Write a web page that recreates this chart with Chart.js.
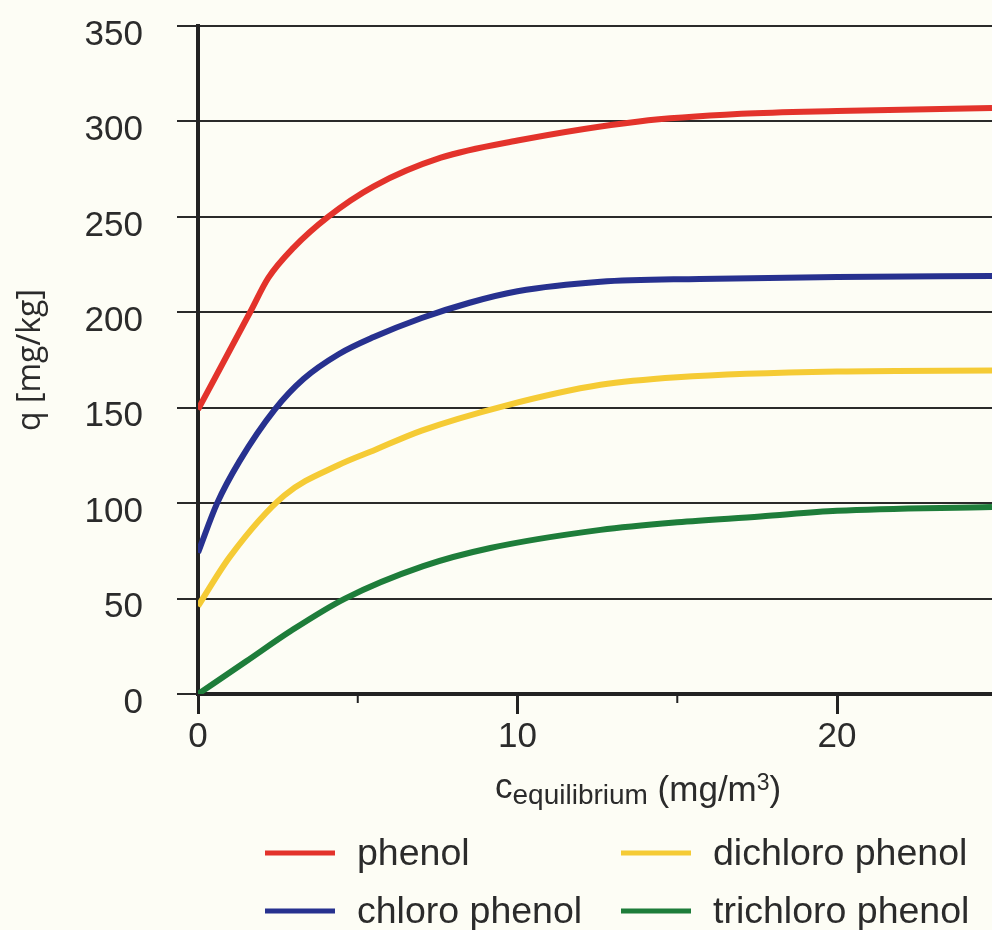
<!DOCTYPE html>
<html>
<head>
<meta charset="utf-8">
<script src="https://cdn.jsdelivr.net/npm/chart.js@4.4.1/dist/chart.umd.min.js"></script>
<style>
  html, body { margin: 0; padding: 0; background: #fdfdf5; }
  canvas { display: block; }
</style>
</head>
<body>
<canvas id="grafico" width="992" height="930"></canvas>
<script>
// valores
const phenolX = [0, 1.63, 2.2, 3, 4.07, 5.5, 7.6, 10, 13.8, 17, 20, 24.85]
const phenolY = [149, 200, 218, 234, 250, 266, 281, 290, 300, 304, 305.5, 307]

const chloroX = [0, 0.6, 1.3, 2.4, 3.3, 4.4, 5.5, 7, 8.5, 10, 12.6, 15.7, 20, 24.85]
const chloroY = [74, 100, 122, 149, 165, 178, 187, 197, 205, 211, 216, 217.5, 218.5, 219]

const dichloroX = [0, 1, 2.7, 4.4, 5.55, 7, 9.6, 12.6, 15, 20, 24.85]
const dichloroY = [46, 72, 104, 120, 128, 138, 151, 162, 166, 169, 169.5]

const trichloroX = [0, 1.5, 2.9, 4.6, 7.05, 9.15, 12.6, 15, 17.6, 20, 24.85]
const trichloroY = [0, 17, 33, 50, 67, 76.5, 86, 90, 93, 96, 98]

const seriesNames = ["phenol", "chloro phenol", "dichloro phenol", "trichloro phenol"]
const seriesColors = ["#e3332b", "#27318f", "#f5cb35", "#1e7d3a"]

const xTicks = [0, 5, 10, 15, 20]
const yTicks = [0, 50, 100, 150, 200, 250, 300, 350]

const fonte = "'Liberation Sans', Arial, sans-serif"
const corTexto = "#2b2b2b"

function pontos(xs, ys) {
  return xs.map((x, i) => ({ x: x, y: ys[i] }))
}

const dadosSeries = [
  pontos(phenolX, phenolY),
  pontos(chloroX, chloroY),
  pontos(dichloroX, dichloroY),
  pontos(trichloroX, trichloroY)
]

// marcas menores do eixo x, titulo do eixo x e legenda em duas colunas
const extras = {
  id: "extras",
  beforeDraw(chart) {
    const c = chart.ctx
    c.save()
    c.fillStyle = "#fdfdf5"
    c.fillRect(0, 0, chart.width, chart.height)
    c.restore()
  },
  afterDraw(chart) {
    const c = chart.ctx
    const sx = chart.scales.x
    const base = chart.chartArea.bottom
    c.save()
    c.strokeStyle = "#222"
    c.lineWidth = 2
    xTicks.filter(v => v % 10 !== 0).forEach(v => {
      const px = sx.getPixelForValue(v)
      c.beginPath()
      c.moveTo(px, base)
      c.lineTo(px, base + 9)
      c.stroke()
    })

    // titulo do eixo x com subscrito e sobrescrito
    c.fillStyle = corTexto
    c.textBaseline = "alphabetic"
    c.textAlign = "left"
    let x = 495
    const partes = [
      ["c", 35, 798],
      ["equilibrium", 28, 804],
      [" (mg/m", 35, 801],
      ["3", 23, 790],
      [")", 35, 801]
    ]
    partes.forEach(p => {
      c.font = p[1] + "px " + fonte
      c.fillText(p[0], x, p[2])
      x += c.measureText(p[0]).width
    })

    // legenda
    const posicoes = [[265, 853], [265, 911], [621, 853], [621, 911]]
    c.font = "37.5px " + fonte
    c.textBaseline = "middle"
    chart.data.datasets.forEach((ds, i) => {
      const [lx, ly] = posicoes[i]
      c.strokeStyle = ds.borderColor
      c.lineWidth = 5
      c.beginPath()
      c.moveTo(lx, ly)
      c.lineTo(lx + 70, ly)
      c.stroke()
      c.fillStyle = corTexto
      c.fillText(ds.label, lx + 92, ly + 2)
    })
    c.restore()
  }
}

const grafico = new Chart(document.getElementById("grafico"), {
  type: "line",
  data: {
    datasets: seriesNames.map((nome, i) => ({
      label: nome,
      data: dadosSeries[i],
      borderColor: seriesColors[i],
      backgroundColor: seriesColors[i],
      borderWidth: 6,
      pointRadius: 0,
      cubicInterpolationMode: "monotone",
      fill: false
    }))
  },
  options: {
    responsive: false,
    animation: false,
    devicePixelRatio: 1,
    layout: { padding: { top: 26, left: 0, right: 0, bottom: 0 } },
    plugins: {
      legend: { display: false },
      tooltip: { enabled: false }
    },
    scales: {
      x: {
        type: "linear",
        min: 0,
        max: 24.85,
        afterBuildTicks: s => { s.ticks = xTicks.map(v => ({ value: v })) },
        afterFit: s => { s.height = 236; s.paddingLeft = 0; s.paddingRight = 0 },
        border: { color: "#222", width: 4 },
        grid: {
          drawOnChartArea: false,
          tickLength: 20,
          tickWidth: 3,
          tickColor: ctx => (ctx.tick && ctx.tick.value % 10 === 0) ? "#222" : "rgba(0,0,0,0)"
        },
        ticks: {
          autoSkip: false,
          maxRotation: 0,
          padding: 2,
          color: corTexto,
          font: { family: fonte, size: 35 },
          callback: v => v % 10 === 0 ? v : ""
        }
      },
      y: {
        min: 0,
        max: 350,
        afterBuildTicks: s => { s.ticks = yTicks.map(v => ({ value: v })) },
        afterFit: s => { s.width = 198; s.paddingTop = 0; s.paddingBottom = 0 },
        border: { color: "#222", width: 4 },
        grid: {
          color: "#2a2a2a",
          lineWidth: 2,
          tickLength: 21,
          tickColor: "#2a2a2a",
          tickWidth: 2
        },
        ticks: {
          padding: 34,
          labelOffset: 9,
          color: corTexto,
          font: { family: fonte, size: 35 }
        },
        title: {
          display: true,
          text: "q [mg/kg]",
          color: corTexto,
          font: { family: "'Open Sans', sans-serif", size: 32 },
          padding: { top: 12, bottom: 0 }
        }
      }
    }
  },
  plugins: [extras]
})
</script>
</body>
</html>
